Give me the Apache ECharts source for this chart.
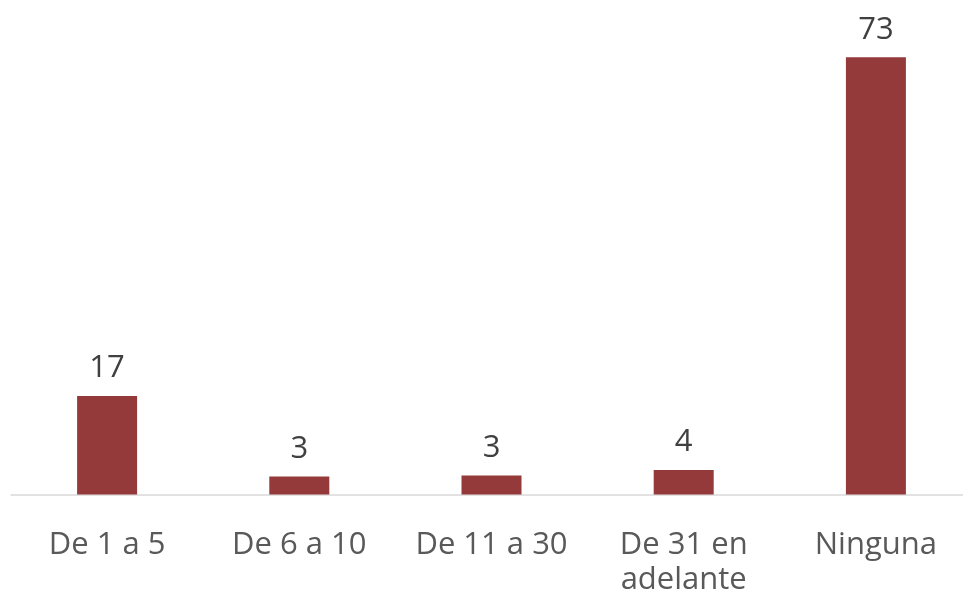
<!DOCTYPE html>
<html>
<head>
<meta charset="utf-8">
<script src="https://cdn.jsdelivr.net/npm/echarts@6/dist/echarts.min.js"></script>
<style>
html,body{margin:0;padding:0;background:#fff;overflow:hidden;width:963px;height:604px;}
#chart{width:972px;height:604px;}
</style>
</head>
<body>
<div id="chart"></div>
<script>
var categories = ['De 1 a 5', 'De 6 a 10', 'De 11 a 30', 'De 31 en\nadelante', 'Ninguna'];
var values = [16.5, 3.0, 3.2, 4.1, 73.2];

var chart = echarts.init(document.getElementById('chart'));
chart.setOption({
  animation: false,
  grid: { left: 11, right: 0, top: 16.7, bottom: 109.5, containLabel: false },
  xAxis: {
    type: 'category',
    data: categories,
    axisLine: { show: true, lineStyle: { color: '#D9D9D9', width: 1.5 } },
    axisTick: { show: false },
    axisLabel: {
      color: '#595959',
      fontFamily: 'Open Sans',
      fontSize: 31,
      lineHeight: 35,
      margin: 33,
      interval: 0
    }
  },
  yAxis: {
    type: 'value',
    min: 0,
    max: 80,
    show: false,
    splitLine: { show: false }
  },
  series: [{
    type: 'bar',
    data: values,
    barWidth: 60,
    itemStyle: { color: '#953A3A' },
    label: {
      show: true,
      position: 'top',
      distance: 12,
      color: '#404040',
      fontFamily: 'Open Sans',
      fontSize: 31,
      formatter: function (p) { return Math.round(p.value).toString(); }
    }
  }]
});
</script>
</body>
</html>
